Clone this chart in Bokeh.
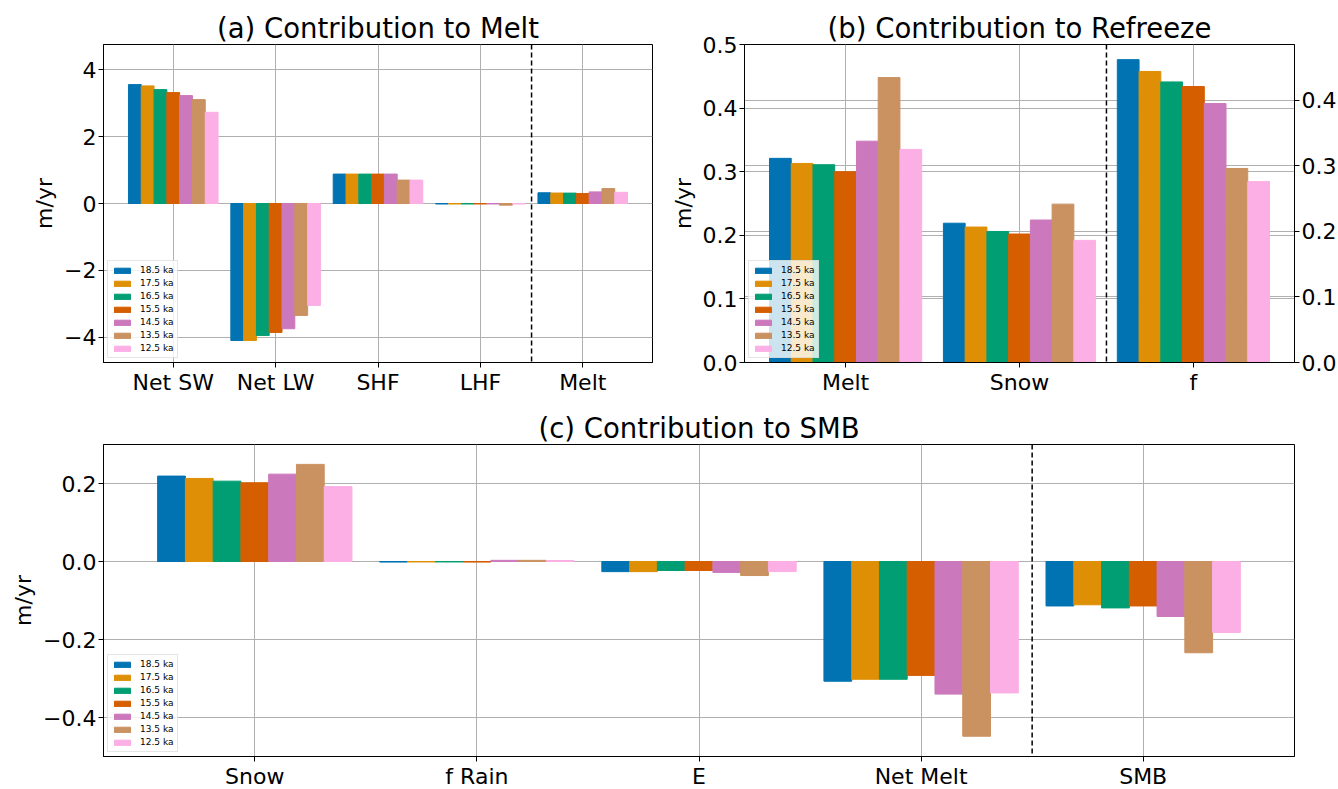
import numpy as np
from bokeh.plotting import figure
from bokeh.models import Range1d, LinearAxis, FixedTicker, Span, Grid
from bokeh.layouts import column, row
from bokeh.embed import file_html
from bokeh.resources import INLINE

# ---------------- data ----------------
periods = ["18.5 ka", "17.5 ka", "16.5 ka", "15.5 ka", "14.5 ka", "13.5 ka", "12.5 ka"]
colors = ["#0173b2", "#de8f05", "#029e73", "#d55e00", "#cc78bc", "#ca9161", "#fbafe4"]

# (a) Contribution to Melt
melt_cats = ["Net SW", "Net LW", "SHF", "LHF", "Melt"]
net_sw = [3.56, 3.52, 3.41, 3.32, 3.23, 3.11, 2.73]
net_lw = [-4.10, -4.10, -3.95, -3.86, -3.75, -3.35, -3.05]
shf = [0.88, 0.88, 0.88, 0.88, 0.88, 0.70, 0.70]
lhf = [-0.015, -0.015, -0.015, -0.015, -0.015, -0.05, -0.015]
melt = [0.321, 0.313, 0.311, 0.300, 0.348, 0.448, 0.335]
a_yticks = [-4, -2, 0, 2, 4]
a_ylabels = ["\u22124", "\u22122", "0", "2", "4"]

# (b) Contribution to Refreeze
refreeze_cats = ["Melt", "Snow", "f"]
snow = [0.219, 0.213, 0.206, 0.202, 0.224, 0.249, 0.192]
f_frac = [0.462, 0.444, 0.428, 0.421, 0.395, 0.296, 0.276]
b_yticks = [0, 0.1, 0.2, 0.3, 0.4, 0.5]
b_ylabels = ["0.0", "0.1", "0.2", "0.3", "0.4", "0.5"]
b_rticks = [0, 0.1, 0.2, 0.3, 0.4]
b_rlabels = ["0.0", "0.1", "0.2", "0.3", "0.4"]

# (c) Contribution to SMB
smb_cats = ["Snow", "f Rain", "E", "Net Melt", "SMB"]
f_rain = [-0.0015, -0.0012, -0.0012, -0.0015, 0.003, 0.003, 0.0025]
evap = [-0.026, -0.026, -0.023, -0.023, -0.028, -0.036, -0.026]
net_melt = [-0.307, -0.302, -0.302, -0.292, -0.340, -0.448, -0.337]
smb = [-0.114, -0.111, -0.119, -0.114, -0.141, -0.234, -0.182]
c_yticks = [-0.4, -0.2, 0, 0.2]
c_ylabels = ["\u22120.4", "\u22120.2", "0.0", "0.2"]

# ---------------- style ----------------
FONT = "DejaVu Sans"
W = 0.125
GRID = "#b0b0b0"


def style_axis(ax):
    ax.major_label_text_font = FONT
    ax.major_label_text_font_size = "22px"
    ax.major_label_text_color = "black"
    ax.axis_label_text_font = FONT
    ax.axis_label_text_font_size = "22px"
    ax.axis_label_text_font_style = "normal"
    ax.axis_label_text_color = "black"
    ax.axis_line_color = "black"
    ax.axis_line_width = 1
    ax.major_tick_line_color = "black"
    ax.major_tick_out = 5
    ax.major_tick_in = 0
    ax.minor_tick_line_color = None
    ax.major_label_standoff = 2
    ax.axis_label_standoff = 4


def make_fig(title, cats, fw, fh, yr, borders, yticks, ylabels):
    ncat = len(cats)
    half = len(periods) * W / 2
    pad = 0.05 * (ncat - 1 + 2 * half)
    p = figure(frame_width=fw, frame_height=fh,
               x_range=Range1d(-half - pad, ncat - 1 + half + pad),
               y_range=Range1d(*yr),
               output_backend="svg", toolbar_location=None,
               min_border_left=borders[0], min_border_right=borders[1],
               min_border_top=borders[2], min_border_bottom=borders[3])
    p.title.text = title
    p.title.align = "center"
    p.title.text_font = FONT
    p.title.text_font_size = "27.5px"
    p.title.text_font_style = "normal"
    p.title.text_color = "black"
    try:
        p.title.standoff = 2
    except Exception:
        pass
    p.outline_line_color = "black"
    p.outline_line_width = 1
    p.outline_line_alpha = 1
    p.background_fill_color = "white"
    p.border_fill_color = "white"

    p.xaxis.ticker = FixedTicker(ticks=list(range(ncat)))
    p.xaxis.major_label_overrides = {i: c for i, c in enumerate(cats)}
    p.yaxis.ticker = FixedTicker(ticks=yticks)
    p.yaxis.major_label_overrides = {t: l for t, l in zip(yticks, ylabels)}
    p.yaxis.axis_label = "m/yr"
    for ax in p.xaxis + p.yaxis:
        style_axis(ax)
    p.grid.grid_line_color = GRID
    p.grid.grid_line_width = 1
    p.add_layout(Span(location=ncat - 1.5, dimension="height", line_color="black",
                      line_width=1.5, line_dash="5 3"))
    return p


def style_legend(p):
    lg = p.legend[0]
    lg.location = "bottom_left"
    lg.label_text_font = FONT
    lg.label_text_font_size = "9px"
    lg.label_text_color = "black"
    lg.glyph_width = 20
    lg.glyph_height = 7
    lg.label_height = 10
    lg.label_standoff = 8
    lg.spacing = 3
    lg.padding = 4
    lg.margin = 4
    lg.border_line_color = "#cccccc"
    lg.border_line_width = 1
    lg.background_fill_color = "white"
    lg.background_fill_alpha = 0.8


def offsets(j):
    return (j - (len(periods) - 1) / 2) * W


# ---------------- (a) ----------------
pa = make_fig("(a) Contribution to Melt", melt_cats, 549, 318, (-4.76, 4.76),
              (103, 14, 44, 34), a_yticks, a_ylabels)
a_series = [net_sw, net_lw, shf, lhf, melt]
for j, per in enumerate(periods):
    xs = np.arange(len(melt_cats)) + offsets(j)
    tops = [s[j] for s in a_series]
    pa.vbar(x=xs, top=tops, bottom=0, width=W, fill_color=colors[j],
            line_color=colors[j], line_width=1, legend_label=per)
style_legend(pa)

# ---------------- (b) ----------------
pb = make_fig("(b) Contribution to Refreeze", refreeze_cats, 550, 318, (0, 0.5),
              (78, 44, 44, 34), b_yticks, b_ylabels)
pb.extra_y_ranges = {"f": Range1d(0, max(f_frac) * 1.05)}
rax = LinearAxis(y_range_name="f", ticker=FixedTicker(ticks=b_rticks))
rax.major_label_overrides = {t: l for t, l in zip(b_rticks, b_rlabels)}
style_axis(rax)
pb.add_layout(rax, "right")
pb.add_layout(Grid(dimension=1, ticker=rax.ticker, y_range_name="f",
                   grid_line_color=GRID, grid_line_width=1))
b_left = [melt, snow]
for j, per in enumerate(periods):
    xs = np.arange(len(b_left)) + offsets(j)
    tops = [s[j] for s in b_left]
    pb.vbar(x=xs, top=tops, bottom=0, width=W, fill_color=colors[j],
            line_color=colors[j], line_width=1, legend_label=per)
for j, per in enumerate(periods):
    pb.vbar(x=[len(refreeze_cats) - 1 + offsets(j)], top=[f_frac[j]], bottom=0, width=W,
            fill_color=colors[j], line_color=colors[j], line_width=1, y_range_name="f")
style_legend(pb)

# ---------------- (c) ----------------
pc = make_fig("(c) Contribution to SMB", smb_cats, 1191, 312, (-0.5, 0.3),
              (103, 42, 47, 33), c_yticks, c_ylabels)
c_series = [snow, f_rain, evap, net_melt, smb]
for j, per in enumerate(periods):
    xs = np.arange(len(smb_cats)) + offsets(j)
    tops = [s[j] for s in c_series]
    pc.vbar(x=xs, top=tops, bottom=0, width=W, fill_color=colors[j],
            line_color=colors[j], line_width=1, legend_label=per)
style_legend(pc)

layout = column(row(pa, pb), pc)
open("out.html", "w").write(file_html(layout, INLINE))
